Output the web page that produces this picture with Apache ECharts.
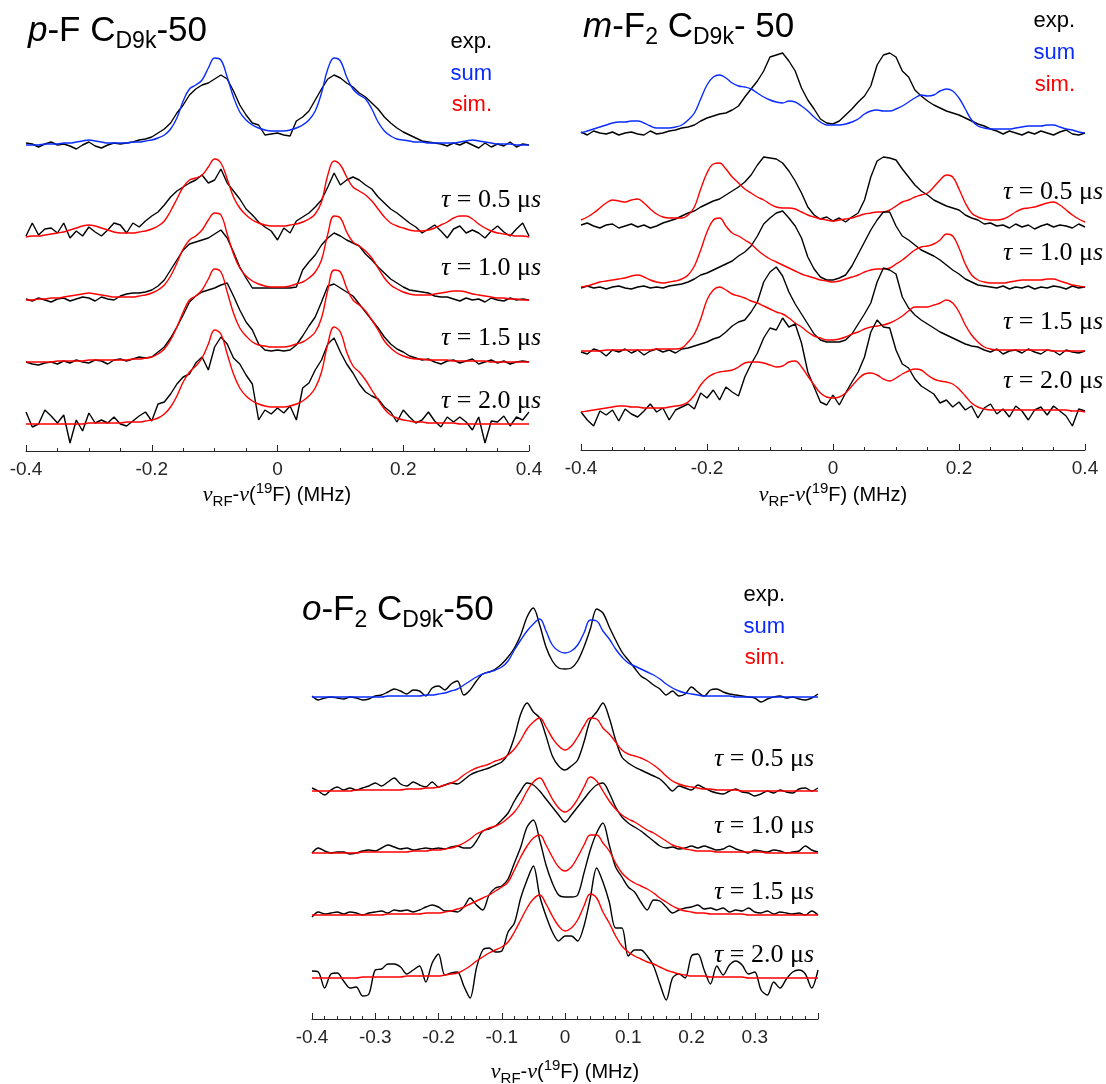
<!DOCTYPE html>
<html><head><meta charset="utf-8">
<script src="https://cdn.jsdelivr.net/npm/echarts@6/dist/echarts.min.js"></script>
<style>html,body{margin:0;padding:0;background:#fff}#c{width:1106px;height:1084px}</style>
</head><body><div id="c"></div>
<script>
// ---------- shared frequency axis (MHz) ----------
const freq = [-0.40,-0.39,-0.38,-0.37,-0.36,-0.35,-0.34,-0.33,-0.32,-0.31,-0.30,-0.29,-0.28,-0.27,-0.26,-0.25,-0.24,-0.23,-0.22,-0.21,
 -0.20,-0.19,-0.18,-0.17,-0.16,-0.15,-0.14,-0.13,-0.12,-0.11,-0.10,-0.09,-0.08,-0.07,-0.06,-0.05,-0.04,-0.03,-0.02,-0.01,
 0,
 0.01,0.02,0.03,0.04,0.05,0.06,0.07,0.08,0.09,0.10,0.11,0.12,0.13,0.14,0.15,0.16,0.17,0.18,0.19,0.20,
 0.21,0.22,0.23,0.24,0.25,0.26,0.27,0.28,0.29,0.30,0.31,0.32,0.33,0.34,0.35,0.36,0.37,0.38,0.39,0.40];

// ---------- panel 1: p-F ----------
const p1Base = [306, 214, 151, 89, 27];
const p1Exp0 = [2,1,-2,1,3,0,1,-1,-4,0,3,-1,-3,0,2,1,2,3,5,6,
 8,12,16,22,32,40,50,56,60,62,66,70,66,54,40,30,22,20,10,11, 12,
 10,9,24,28,34,45,56,66,70,67,62,58,52,48,42,36,28,22,17,13,
 10,7,4,3,2,1,-1,2,0,3,0,-3,2,-2,1,-1,3,-2,1,0];
const p1Sum = [0,0,0,1,1,1,2,2,3,4,5,4,3,2,2,2,2,3,3,4,
 5,7,10,16,27,44,56,60,65,77,87,85,68,48,33,25,20,17,15,14, 14,
 14,15,17,20,25,34,52,76,87,84,68,56,50,46,36,23,14,9,6,5,
 4,3,3,2,2,2,2,2,3,4,5,4,3,2,1,1,1,0,0,0];
const p1Exp1 = [1,14,2,8,9,4,14,-1,6,1,10,5,1,7,14,12,4,14,10,16,
 21,25,32,40,46,50,54,57,62,54,57,68,54,46,38,28,22,15,10,6, -3,
 9,4,16,20,24,30,37,50,64,52,57,60,57,52,48,40,34,28,24,19,
 14,10,4,8,12,6,-1,8,11,4,7,4,-1,6,11,5,1,8,14,1];
const p1Sim1 = [0,1,1,2,3,4,5,7,9,11,12,11,9,7,5,4,4,4,5,6,
 8,11,16,26,38,50,57,59,62,70,78,74,58,40,29,22,17,14,12,11, 11,
 11,12,13,15,18,23,35,62,76,72,60,50,46,42,36,28,20,14,11,9,
 7,6,6,7,9,12,15,19,21,21,18,13,9,6,4,3,2,1,1,0];
const p1Exp2 = [1,-1,2,0,-2,1,2,-1,1,3,2,-1,3,1,0,4,6,7,7,8,
 10,14,20,30,40,50,56,58,60,62,66,70,62,48,33,22,12,12,12,12, 12,
 12,12,13,30,38,45,55,62,67,64,60,57,54,46,40,33,27,21,17,13,
 10,9,8,7,4,3,3,1,-1,2,0,1,-2,2,0,-1,2,0,1,0];
const p1Sim2 = [0,0,1,1,2,2,3,4,5,6,7,6,5,4,3,3,3,3,4,5,
 7,10,15,24,37,51,60,64,70,80,87,85,66,46,32,24,19,16,14,13, 13,
 13,14,16,18,22,28,40,66,84,82,68,58,54,49,42,32,22,15,11,8,
 6,5,5,5,6,7,8,9,9,8,6,5,4,3,2,2,1,1,0,0];
const p1Exp3 = [0,-2,-3,-1,0,-2,1,-1,2,0,-1,2,1,-2,2,3,1,3,5,4,
 5,10,15,24,35,47,60,66,70,72,74,77,79,66,52,40,32,18,12,11, 12,
 11,12,17,26,36,45,60,76,78,74,70,66,58,50,42,34,25,18,13,10,
 6,4,2,3,0,-2,1,2,-1,1,3,-2,0,2,-1,1,-2,0,1,0];
const p1Sim3 = [0,0,0,0,0,1,1,1,1,1,2,2,2,2,2,2,2,3,3,4,
 5,8,13,22,35,50,62,66,72,83,93,90,70,49,34,26,20,17,16,15, 15,
 15,16,18,20,24,30,44,72,92,90,74,62,57,51,42,32,21,14,9,6,
 4,3,3,2,2,2,2,1,1,1,1,1,1,0,0,0,0,0,0,0];
const p1Exp4 = [12,-3,0,14,8,1,9,-19,4,-7,11,1,4,1,7,0,-2,3,8,12,
 3,20,22,30,40,47,50,61,67,54,77,87,80,66,60,49,40,4,14,10, 16,
 11,18,4,36,41,54,64,80,86,72,60,51,40,32,28,25,17,12,2,14,
 7,1,4,12,3,-3,7,2,7,2,-6,7,-19,3,2,8,-2,7,4,12];
const p1Sim4 = [0,0,0,0,0,0,0,0,0,0,1,1,1,1,1,1,2,2,2,3,
 4,6,10,17,28,42,52,58,66,80,94,90,70,50,36,28,23,20,18,17, 17,
 17,18,20,23,28,36,52,80,97,92,72,58,52,44,34,24,15,9,6,4,
 3,2,2,1,1,1,1,1,0,0,0,0,0,0,0,0,0,0,0,0];

// ---------- panel 2: m-F2 ----------
const p2Base = [317, 223, 162, 98, 38];
const p2Exp0 = [1,-2,2,0,-1,1,-2,0,1,-1,-2,2,-1,0,2,3,5,6,8,12,
 15,17,19,20,23,27,36,44,52,62,76,78,80,72,62,45,33,24,14,10, 9,
 12,18,24,31,37,47,68,78,80,76,62,56,43,37,32,28,25,22,20,18,
 15,12,9,7,4,2,-1,2,0,-2,1,-1,2,0,-2,1,3,-1,-2,0];
const p2Sum = [0,2,4,6,8,10,11,11,12,12,10,7,5,5,5,6,8,13,20,34,
 48,56,58,55,50,47,46,44,40,36,33,31,30,32,31,27,22,16,11,8, 8,
 8,9,11,14,19,22,23,22,22,24,27,31,35,38,37,38,42,44,42,35,
 24,13,7,5,4,4,4,4,5,6,7,7,7,8,8,6,4,3,1,0];
const p2Exp1 = [2,4,1,-1,2,3,-1,1,3,0,2,-1,1,4,6,8,11,14,16,20,
 23,26,28,32,36,40,45,52,62,70,69,68,64,56,46,34,20,12,8,10, 6,
 9,5,10,14,27,50,66,70,69,67,58,50,42,36,32,27,24,21,19,17,
 12,9,7,3,4,1,2,-1,3,0,2,-2,1,3,0,2,1,-1,3,0];
const p2Sim1 = [7,10,14,19,24,27,26,25,27,28,24,18,13,10,9,9,9,12,20,38,
 54,63,64,58,50,44,38,34,30,27,23,20,19,19,18,15,12,10,8,7, 6,
 7,8,9,11,13,14,15,15,17,21,25,27,30,32,34,40,47,52,50,38,
 24,14,10,8,7,7,8,11,15,18,19,20,22,24,25,22,17,12,8,5];
const p2Exp2 = [0,2,0,1,-1,1,2,0,-1,1,2,0,1,0,2,3,4,6,9,13,
 15,18,21,24,27,32,36,42,52,64,70,75,77,70,62,50,31,19,11,8, 8,
 10,13,22,34,46,58,68,76,76,62,52,48,43,38,35,32,28,23,18,14,
 9,6,3,2,1,0,2,-1,1,0,2,-1,1,0,2,1,-1,2,0,1];
const p2Sim2 = [1,2,4,6,7,8,9,10,12,13,11,8,6,5,6,7,9,13,22,38,
 56,68,70,62,55,52,48,44,38,33,29,26,23,20,17,14,12,10,8,7, 6,
 7,9,11,13,16,18,19,19,20,24,28,33,38,41,42,44,48,54,52,40,
 24,13,8,6,5,5,5,6,7,8,8,8,8,9,9,7,5,3,2,1];
const p2Exp3 = [0,-2,3,1,-4,2,0,3,-1,2,-3,1,3,0,2,-1,3,4,6,8,
 10,13,15,20,26,30,32,40,50,70,80,85,76,60,48,38,28,18,12,10, 10,
 10,12,18,28,38,49,70,84,82,78,55,44,37,32,28,24,20,17,14,11,
 8,6,5,2,0,3,-2,1,2,-1,3,0,-2,2,1,-3,2,0,-1,1];
const p2Sim3 = [1,1,1,1,2,2,2,2,2,2,2,2,3,3,3,3,4,10,18,33,
 52,62,65,62,58,56,54,51,49,46,43,40,38,34,29,25,20,16,14,12, 12,
 13,15,18,20,23,25,26,27,29,32,36,41,45,45,45,47,49,52,49,40,
 27,17,10,5,3,2,2,2,2,2,2,2,2,2,1,1,1,1,1,1];
const p2Exp4 = [0,-8,-14,1,-3,2,-9,3,-2,-5,1,8,0,4,-8,2,5,8,3,19,
 14,22,12,25,20,16,35,48,59,74,84,82,94,85,88,69,40,25,10,7, 17,
 7,19,30,40,55,80,92,85,84,62,48,44,33,26,22,18,9,12,5,10,
 2,6,-6,4,8,-2,3,-5,6,1,-8,2,5,-3,6,1,-4,-14,3,1];
const p2Sim4 = [0,1,2,3,4,5,6,6,5,5,4,4,4,4,5,6,7,10,17,27,
 34,38,40,41,42,45,49,50,50,49,47,45,46,50,51,45,36,27,19,15, 14,
 15,19,26,33,38,39,37,33,31,34,38,41,43,42,37,33,31,30,28,23,
 16,9,5,3,2,2,2,2,2,2,2,2,2,2,2,2,2,1,1,0];

// ---------- panel 3: o-F2 ----------
const p3Base = [322, 227, 166, 104, 41];
const p3Exp0 = [1,-3,-1,0,-1,-2,0,-1,-3,-2,1,2,5,8,6,3,7,6,1,9,
 11,7,13,16,2,7,16,23,25,28,33,40,49,62,80,89,72,50,36,29, 28,
 29,36,50,68,88,84,70,57,45,37,29,21,17,12,8,2,6,1,3,10,
 5,1,7,8,5,3,2,1,0,-1,-5,-2,0,1,-1,0,-2,-3,-1,3];
const p3Sum = [0,0,0,0,0,0,0,0,0,0,0,0,1,1,1,1,1,1,2,2,
 3,4,6,8,12,16,20,23,25,27,30,36,47,57,66,73,78,66,52,46, 44,
 46,52,64,77,76,66,58,48,40,34,31,28,25,22,18,13,9,6,4,3,
 2,1,1,1,1,1,0,0,0,0,0,0,0,0,0,0,0,0,0,0];
const p3Exp1 = [4,1,-3,2,5,2,4,2,4,6,9,6,10,14,8,6,10,7,5,10,
 5,7,9,8,12,17,20,22,24,27,30,38,55,78,89,80,74,56,36,26, 22,
 26,32,50,72,80,89,74,52,35,29,25,22,19,16,13,7,1,6,4,2,
 7,4,1,-1,-2,1,3,0,-1,-4,-2,1,-1,2,0,-1,3,4,1,4];
const p3Sim1 = [1,1,1,1,1,1,1,2,2,2,2,2,2,2,2,3,3,3,4,4,
 5,7,9,12,17,21,24,26,28,31,33,37,43,52,63,70,74,65,54,46, 42,
 46,55,66,74,73,64,58,50,42,38,36,34,31,27,22,16,11,8,6,5,
 4,3,3,2,2,2,2,1,1,1,1,1,1,1,1,1,1,1,1,1];
const p3Exp2 = [0,5,2,0,1,1,-1,0,2,3,2,5,8,6,4,5,3,4,5,4,
 5,4,6,7,5,5,12,22,24,27,33,40,52,62,70,68,62,54,46,38, 31,
 38,46,54,62,68,70,60,46,36,30,26,22,17,12,7,5,6,4,5,7,
 5,7,5,3,4,7,4,2,0,3,2,1,3,2,0,1,2,7,3,1];
const p3Sim2 = [0,0,0,0,0,0,0,0,1,1,1,1,1,1,1,1,2,2,2,3,
 3,4,5,7,10,14,19,22,25,27,30,35,41,50,62,71,75,66,54,45, 41,
 45,54,66,76,72,62,52,44,38,34,31,27,23,20,16,12,8,6,4,3,
 2,2,2,1,1,1,1,1,1,1,1,0,0,0,0,0,0,0,0,0];
const p3Exp3 = [-2,3,1,2,3,1,3,2,0,2,3,4,2,5,4,5,3,5,8,10,
 8,4,4,3,8,17,10,5,20,27,29,36,52,68,88,95,75,50,32,20, 18,
 18,20,42,65,82,92,70,48,38,28,23,13,5,15,14,8,2,5,7,8,
 10,6,7,5,7,3,5,4,7,3,2,4,1,3,2,1,2,0,4,0];
const p3Sim3 = [0,0,0,0,0,0,0,0,0,0,0,0,1,1,1,1,1,1,2,2,
 2,3,4,6,8,11,14,17,20,24,28,33,45,58,69,77,80,70,58,48, 44,
 48,58,70,80,80,72,64,52,42,36,32,29,26,22,17,13,9,6,4,3,
 2,2,1,1,1,1,1,1,0,0,0,0,0,0,0,0,0,0,0,0];
const p3Exp4 = [7,6,-10,4,5,-3,-10,-9,-18,-16,8,9,14,14,11,4,8,12,-4,15,
 24,3,5,6,-8,-20,10,28,30,26,27,46,55,80,98,112,82,62,46,37, 42,
 42,37,52,80,110,96,76,50,50,22,28,28,22,12,-6,-22,0,4,0,22,
 24,8,-6,12,3,13,17,13,4,6,-12,-17,-4,-10,-1,6,8,4,-10,8];
const p3Sim4 = [0,0,0,0,0,0,0,0,1,1,1,1,1,1,1,2,2,2,2,2,
 2,3,4,5,8,12,17,21,25,28,31,36,46,58,70,79,83,74,62,52, 47,
 50,58,72,84,80,66,55,42,32,26,22,19,16,14,11,8,6,4,3,2,
 2,2,1,1,1,1,1,1,0,0,0,0,0,0,0,0,0,0,0,0];

const tauLabels = ['0.5', '1.0', '1.5', '2.0'];

// ---------- styling ----------
const SANS = '"Liberation Sans", Arial, Helvetica, sans-serif';
const SERIF = '"Liberation Serif", "DejaVu Serif", serif';
const AX = '#262626';
const BLUE = '#0a2bff';
const RED = '#ff0000';

function xAxisFor(gi, interval, minorSplit, hideMax) {
  return {
    type: 'value', gridIndex: gi, min: -0.4, max: 0.4, interval: interval,
    axisLine: { show: true, onZero: false, lineStyle: { color: AX, width: 1 } },
    axisTick: { show: true, inside: true, length: 6, lineStyle: { color: AX, width: 1 } },
    minorTick: { show: true, splitNumber: minorSplit, length: 3, lineStyle: { color: AX, width: 1 } },
    splitLine: { show: false }, minorSplitLine: { show: false },
    axisLabel: { color: AX, fontSize: 19, fontFamily: SANS, margin: 9,
      formatter: function (v) { if (hideMax && v > 0.39) return ''; return String(Math.round(v * 10) / 10); } }
  };
}
function yAxisFor(gi) { return { type: 'value', gridIndex: gi, min: 0, max: 400, show: false }; }

const series = [];
function addTrace(gi, vals, base, color, smooth) {
  series.push({
    type: 'line', xAxisIndex: gi, yAxisIndex: gi, clip: false,
    data: freq.map(function (f, i) { return [f, base + vals[i]]; }),
    symbol: 'none', showSymbol: false, smooth: smooth, silent: true, animation: false,
    lineStyle: { color: color, width: 1.4 }, itemStyle: { color: color }
  });
}
const panels = [
  { exp: [p1Exp0, p1Exp1, p1Exp2, p1Exp3, p1Exp4], sim: [p1Sum, p1Sim1, p1Sim2, p1Sim3, p1Sim4], base: p1Base, sm: false },
  { exp: [p2Exp0, p2Exp1, p2Exp2, p2Exp3, p2Exp4], sim: [p2Sum, p2Sim1, p2Sim2, p2Sim3, p2Sim4], base: p2Base, sm: false },
  { exp: [p3Exp0, p3Exp1, p3Exp2, p3Exp3, p3Exp4], sim: [p3Sum, p3Sim1, p3Sim2, p3Sim3, p3Sim4], base: p3Base, sm: 0.3 }
];
panels.forEach(function (p, gi) {
  for (let k = 0; k < 5; k++) {
    addTrace(gi, p.exp[k], p.base[k], '#000000', p.sm);
    addTrace(gi, p.sim[k], p.base[k], k === 0 ? BLUE : RED, 0.4);
  }
});

// ---------- composite text runs ----------
const meas = document.createElement('canvas').getContext('2d');
function textRun(x, y, parts, align) {
  const ws = parts.map(function (p) { meas.font = p.font; return meas.measureText(p.t).width; });
  const total = ws.reduce(function (a, b) { return a + b; }, 0);
  let cx = align === 'right' ? x - total : (align === 'center' ? x - total / 2 : x);
  const els = [];
  parts.forEach(function (p, i) {
    els.push({ type: 'text', x: cx, y: y + (p.dy || 0), silent: true,
      style: { text: p.t, font: p.font, fill: p.fill || '#000', textAlign: 'left', textVerticalAlign: 'middle' } });
    cx += ws[i];
  });
  return els;
}
const F = function (size, italic, fam) { return (italic ? 'italic ' : '') + size + 'px ' + (fam || SANS); };
let graphics = [];
// titles
graphics = graphics.concat(textRun(28, 31, [
  { t: 'p', font: F(35, true) }, { t: '-F C', font: F(35) }, { t: 'D9k', font: F(23), dy: 11 }, { t: '-50', font: F(35) }]));
graphics = graphics.concat(textRun(583, 27, [
  { t: 'm', font: F(35, true) }, { t: '-F', font: F(35) }, { t: '2', font: F(23), dy: 11 }, { t: ' C', font: F(35) },
  { t: 'D9k', font: F(23), dy: 11 }, { t: '- 50', font: F(35) }]));
graphics = graphics.concat(textRun(302, 610, [
  { t: 'o', font: F(35, true) }, { t: '-F', font: F(35) }, { t: '2', font: F(23), dy: 11 }, { t: ' C', font: F(35) },
  { t: 'D9k', font: F(23), dy: 11 }, { t: '-50', font: F(35) }]));
// legends
function legend(xr, ys) {
  graphics = graphics.concat(textRun(xr, ys[0], [{ t: 'exp.', font: F(22), fill: '#000' }], 'right'));
  graphics = graphics.concat(textRun(xr, ys[1], [{ t: 'sum', font: F(22), fill: BLUE }], 'right'));
  graphics = graphics.concat(textRun(xr, ys[2], [{ t: 'sim.', font: F(22), fill: RED }], 'right'));
}
legend(492, [42, 74, 105]);
legend(1075, [21, 53, 85]);
legend(785, [595, 627, 658]);
// tau labels
function tau(xr, y, v) {
  graphics = graphics.concat(textRun(xr, y, [
    { t: 'τ', font: F(26, true, SERIF) }, { t: ' = ' + v + ' ', font: F(26, false, SERIF) },
    { t: 'μ', font: F(26, false, SERIF) }, { t: 's', font: F(26, true, SERIF) }], 'right'));
}
[200, 268, 338, 401].forEach(function (y, i) { tau(541, y, tauLabels[i]); });
[192, 253, 322, 381].forEach(function (y, i) { tau(1103, y, tauLabels[i]); });
[759, 826, 892, 955].forEach(function (y, i) { tau(814, y, tauLabels[i]); });
// axis titles
function axTitle(xc, y) {
  graphics = graphics.concat(textRun(xc, y, [
    { t: 'ν', font: F(22, true, SERIF) }, { t: 'RF', font: F(15), dy: 7 }, { t: '-', font: F(20) },
    { t: 'ν', font: F(22, true, SERIF) }, { t: '(', font: F(20) }, { t: '19', font: F(15), dy: -6 },
    { t: 'F) (MHz)', font: F(20) }], 'center'));
}
axTitle(277, 495);
axTitle(833, 495);
axTitle(565, 1072);

const chart = echarts.init(document.getElementById('c'), null, { renderer: 'canvas' });
chart.setOption({
  animation: false,
  backgroundColor: '#ffffff',
  grid: [
    { left: 26, top: 51, width: 503, height: 400, outerBoundsMode: 'none', containLabel: false },
    { left: 581, top: 50, width: 504, height: 400, outerBoundsMode: 'none', containLabel: false },
    { left: 312, top: 619, width: 506, height: 400, outerBoundsMode: 'none', containLabel: false }
  ],
  xAxis: [xAxisFor(0, 0.2, 4, false), xAxisFor(1, 0.2, 4, false), xAxisFor(2, 0.1, 5, true)],
  yAxis: [yAxisFor(0), yAxisFor(1), yAxisFor(2)],
  series: series,
  graphic: { elements: graphics }
});
</script></body></html>
